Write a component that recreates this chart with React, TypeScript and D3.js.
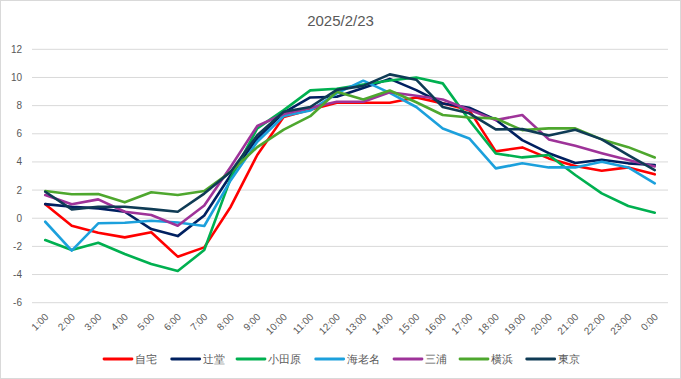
import React from "react";
import * as d3 from "d3";

const hours = ["1:00","2:00","3:00","4:00","5:00","6:00","7:00","8:00","9:00","10:00","11:00","12:00","13:00","14:00","15:00","16:00","17:00","18:00","19:00","20:00","21:00","22:00","23:00","0:00"];
const seriesNames = ["自宅","辻堂","小田原","海老名","三浦","横浜","東京"];
const jitaku = [1.0,-0.53,-1.03,-1.36,-1.0,-2.73,-2.07,0.82,4.49,7.2,7.7,8.2,8.2,8.2,8.58,8.16,7.68,4.75,5.03,4.25,3.71,3.37,3.61,3.12];
const tsujido = [1.0,0.82,0.7,0.46,-0.77,-1.27,0.2,3.07,5.67,7.5,8.58,8.63,9.25,9.9,9.1,8.15,7.85,7.0,5.55,4.62,3.92,4.15,3.9,3.78];
const odawara = [-1.55,-2.26,-1.74,-2.54,-3.25,-3.75,-2.26,2.85,6.38,7.68,9.08,9.2,9.5,9.78,10.0,9.58,6.97,4.6,4.32,4.49,3.07,1.77,0.87,0.39];
const ebina = [-0.25,-2.3,-0.36,-0.32,-0.18,-0.3,-0.55,2.7,5.43,7.26,7.65,8.87,9.77,8.9,7.9,6.38,5.67,3.54,3.9,3.61,3.61,4.01,3.61,2.48];
const miura = [1.65,0.99,1.34,0.46,0.23,-0.53,0.9,3.66,6.55,7.4,7.85,8.27,8.27,8.95,8.7,8.44,7.7,6.97,7.33,5.6,5.15,4.62,4.13,3.68];
const yokohama = [1.93,1.7,1.72,1.13,1.84,1.65,1.93,3.3,5.05,6.3,7.25,8.98,8.44,9.07,8.24,7.33,7.16,7.09,6.26,6.38,6.38,5.6,5.05,4.32];
const tokyo = [1.88,0.63,0.82,0.82,0.65,0.46,1.75,3.3,5.9,7.56,7.9,9.12,9.4,10.22,9.84,7.9,7.45,6.31,6.33,5.88,6.28,5.6,4.49,3.42];
const yTicks = [-6,-4,-2,0,2,4,6,8,10,12];
const colors = ["#FF0000","#002060","#00B050","#1CA0DC","#9E3399","#4EA72E","#0F3B55"];
const allSeries = [jitaku, tsujido, odawara, ebina, miura, yokohama, tokyo];

const W = 681, H = 379;
const plotL = 32, plotR = 668, plotT = 49.3, plotB = 302.7;
const font = "'Liberation Sans', Arial, sans-serif";
const textColor = "#595959";

export default function App() {
  const x = d3.scalePoint<string>().domain(hours).range([plotL, plotR]).padding(0.5);
  const y = d3.scaleLinear().domain([-6, 12]).range([plotB, plotT]);
  const line = d3.line<number>().x((_, i) => x(hours[i]) as number).y(d => y(d));
  const legendX = [104, 171.7, 237, 315.7, 394, 460, 526.7];
  return (
    <svg width={W} height={H} style={{ position: "absolute", left: 0, top: 0, background: "#fff" }} fontFamily={font}>
      <rect x={0.5} y={0.5} width={W - 1} height={H - 1} fill="#fff" stroke="#d9d9d9" />
      <text x={W / 2} y={26} textAnchor="middle" fontSize={15} fill={textColor}>2025/2/23</text>
      {yTicks.map(t => (
        <g key={t}>
          <line x1={plotL} x2={plotR} y1={y(t)} y2={y(t)} stroke="#d9d9d9" strokeWidth={1} />
          <text x={22} y={y(t)} dy="0.35em" textAnchor="end" fontSize={10} fill={textColor}>{t}</text>
        </g>
      ))}
      {hours.map(h => (
        <text key={h} transform={`translate(${(x(h) as number) + 1.5},${315}) rotate(-45)`} textAnchor="end" dy="0.35em" fontSize={10} fill={textColor}>{h}</text>
      ))}
      {allSeries.map((s, k) => (
        <path key={k} d={line(s) || ""} fill="none" stroke={colors[k]} strokeWidth={2.6} strokeLinejoin="round" strokeLinecap="round" />
      ))}
      {seriesNames.map((n, k) => (
        <g key={n}>
          <line x1={legendX[k]} x2={legendX[k] + 28} y1={359} y2={359} stroke={colors[k]} strokeWidth={2.8} strokeLinecap="round" />
          <text x={legendX[k] + 31} y={359} dy="0.36em" fontSize={11} fill={textColor}>{n}</text>
        </g>
      ))}
    </svg>
  );
}
